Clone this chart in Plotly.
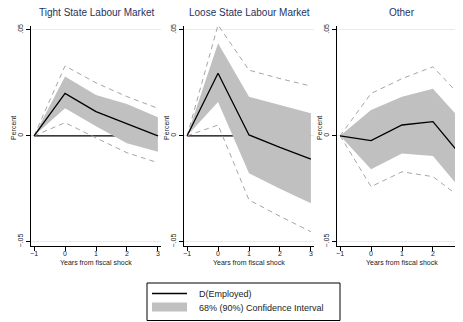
import plotly.graph_objects as go

# years from fiscal shock
years = [-1, 0, 1, 2, 3]

panels = ["Tight State Labour Market", "Loose State Labour Market", "Other"]
legend_labels = ["D(Employed)", "68% (90%) Confidence Interval"]

# D(Employed) impulse responses
resp_tight = [0, 0.020, 0.0114, 0.0056, 0.0]
resp_loose = [0, 0.0295, 0.0004, -0.0055, -0.011]
resp_other = [0, -0.0023, 0.0051, 0.0067, -0.011]

# 68% band
hi68_tight = [0, 0.028, 0.0193, 0.0150, 0.0088]
lo68_tight = [0, 0.013, 0.0045, -0.0035, -0.0075]
hi68_loose = [0, 0.0437, 0.0185, 0.0145, 0.0106]
lo68_loose = [0, 0.016, -0.0177, -0.025, -0.0319]
hi68_other = [0, 0.0122, 0.0185, 0.0222, 0.006]
lo68_other = [0, -0.0158, -0.0083, -0.0095, -0.027]

# 90% band (dashed)
hi90_tight = [0, 0.033, 0.025, 0.0185, 0.013]
lo90_tight = [0, 0.0062, -0.001, -0.008, -0.0127]
hi90_loose = [0, 0.0523, 0.031, 0.027, 0.0235]
lo90_loose = [0, 0.0051, -0.0303, -0.038, -0.0453]
hi90_other = [0, 0.020, 0.027, 0.0326, 0.017]
lo90_other = [0, -0.024, -0.017, -0.0193, -0.0303]

zero = [0, 0, 0, 0, 0]

data = [
    (resp_tight, hi68_tight, lo68_tight, hi90_tight, lo90_tight),
    (resp_loose, hi68_loose, lo68_loose, hi90_loose, lo90_loose),
    (resp_other, hi68_other, lo68_other, hi90_other, lo90_other),
]

W, H = 463, 322
OFF = 8  # default page margin around the plot div
FONT = "Liberation Sans, Arial, sans-serif"
BAND = "#c0c0c0"
DASH = "#a6a6a6"
TXT = "#222"

# page-pixel layout of the three panels (third one runs past the window edge)
x_px = [(31, 161), (184, 314), (337, 467)]
x_rng = [-1.1, 3.1]
y_top, y_bot = 25.9, 245.7
y_rng = [-0.0519, 0.0519]


def px(x):
    return (x - OFF) / W


def py(y):
    return 1 - (y - OFF) / H


fig = go.Figure()
for i, (resp, hi68, lo68, hi90, lo90) in enumerate(data):
    xa = "x" if i == 0 else f"x{i+1}"
    ya = "y" if i == 0 else f"y{i+1}"
    fig.add_trace(go.Scatter(x=years, y=zero, mode="lines", line=dict(color="black", width=1.2),
                             xaxis=xa, yaxis=ya, hoverinfo="skip"))
    fig.add_trace(go.Scatter(x=years, y=hi68, mode="lines", line=dict(width=0, color=BAND),
                             xaxis=xa, yaxis=ya, hoverinfo="skip"))
    fig.add_trace(go.Scatter(x=years, y=lo68, mode="lines", line=dict(width=0, color=BAND),
                             fill="tonexty", fillcolor=BAND, xaxis=xa, yaxis=ya))
    for band in (hi90, lo90):
        fig.add_trace(go.Scatter(x=years, y=band, mode="lines",
                                 line=dict(color=DASH, width=1, dash="5px,4px"),
                                 xaxis=xa, yaxis=ya))
    fig.add_trace(go.Scatter(x=years, y=resp, mode="lines", line=dict(color="black", width=1.3),
                             xaxis=xa, yaxis=ya, name="D(Employed)"))

ann = []
for i, (p0, p1) in enumerate(x_px):
    sfx = "" if i == 0 else str(i + 1)
    fig.layout[f"xaxis{sfx}"] = dict(
        domain=[px(p0), px(p1)], range=x_rng, anchor=f"y{sfx}",
        tickvals=[-1, 0, 1, 2, 3], ticktext=["\u22121", "0", "1", "2", "3"],
        ticks="outside", ticklen=4, tickcolor="black", showline=True, linecolor="black",
        linewidth=1, showgrid=False, zeroline=False, ticklabelstandoff=-3,
        tickfont=dict(family=FONT, size=7, color=TXT), automargin=False)
    fig.layout[f"yaxis{sfx}"] = dict(
        domain=[py(y_bot), py(y_top)], range=y_rng, anchor=f"x{sfx}",
        tickvals=[-0.05, 0, 0.05], ticktext=["\u2212.05", "0", ".05"], tickangle=-90,
        ticks="outside", ticklen=4, tickcolor="black", showline=True, linecolor="black",
        linewidth=1, showgrid=True, gridcolor="#e4eef0", gridwidth=1, zeroline=False,
        tickfont=dict(family=FONT, size=7, color=TXT), automargin=False)
    xr = "x" + sfx
    ann.append(dict(text=panels[i], x=1, xref=xr, y=py(12.7), yref="paper",
                    xanchor="center", yanchor="middle", showarrow=False,
                    font=dict(family=FONT, size=10, color="#26325e")))
    ann.append(dict(text="Years from fiscal shock", x=1, xref=xr, y=py(262), yref="paper",
                    xanchor="center", yanchor="middle", showarrow=False,
                    font=dict(family=FONT, size=7, color=TXT)))
    ann.append(dict(text="Percent", x=px(p0 - 18), xref="paper", y=py(128), yref="paper",
                    xanchor="center", yanchor="middle", textangle=-90, showarrow=False,
                    font=dict(family=FONT, size=7, color=TXT)))

# legend box drawn by hand (Stata-style compact legend)
shapes = [
    dict(type="rect", xref="paper", yref="paper", x0=px(147), x1=px(340), y0=py(320.5), y1=py(283),
         line=dict(color="black", width=1), fillcolor="white"),
    dict(type="line", xref="paper", yref="paper", x0=px(152), x1=px(187), y0=py(293.5), y1=py(293.5),
         line=dict(color="black", width=1.3)),
    dict(type="rect", xref="paper", yref="paper", x0=px(152), x1=px(187), y0=py(311.5), y1=py(302.5),
         line=dict(width=0), fillcolor=BAND),
]
for k, lab in enumerate(legend_labels):
    ann.append(dict(text=lab, x=px(197), xref="paper", y=py(293.5 + 14 * k), yref="paper",
                    xanchor="left", yanchor="middle", showarrow=False,
                    font=dict(family=FONT, size=9, color=TXT)))

fig.update_layout(
    width=W, height=H, margin=dict(l=0, r=0, t=0, b=0),
    paper_bgcolor="white", plot_bgcolor="white",
    showlegend=False, annotations=ann, shapes=shapes,
)

fig.write_html("out.html")
